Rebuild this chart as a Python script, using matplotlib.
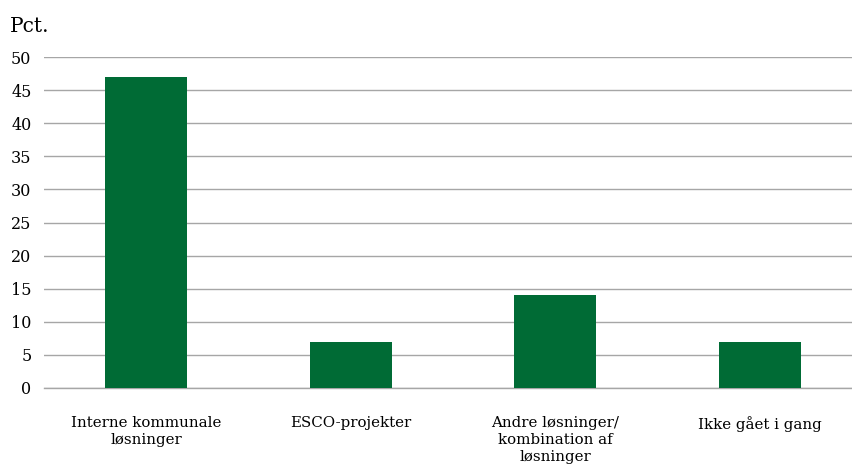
import matplotlib
matplotlib.use("Agg")
import matplotlib.pyplot as plt

categories = ["Interne kommunale\nløsninger", "ESCO-projekter",
              "Andre løsninger/\nkombination af\nløsninger", "Ikke gået i gang"]
values = [47, 7, 14, 7]
yticks = [0, 5, 10, 15, 20, 25, 30, 35, 40, 45, 50]

FONT = "DejaVu Serif"
BAR_COLOR = "#006b35"
GRID_COLOR = "#a6a6a6"

fig = plt.figure(figsize=(8.53, 4.68), dpi=100)
ax = fig.add_axes([44 / 853, 80 / 468, 818 / 853, 331 / 468])

x = list(range(len(categories)))
ax.bar(x, values, width=0.4, color=BAR_COLOR, zorder=3)

ax.set_xlim(-0.5, len(categories) - 0.5)
ax.set_ylim(0, 50)
ax.set_yticks(yticks)
ax.set_yticklabels([str(v) for v in yticks], fontfamily=FONT, fontsize=11.5)
ax.yaxis.grid(True, color=GRID_COLOR, linewidth=1.0, zorder=0)
ax.set_xticks(x)
ax.set_xticklabels(categories, fontfamily=FONT, fontsize=10.8,
                   linespacing=1.3, va="top")
ax.tick_params(axis="both", length=0)
ax.tick_params(axis="y", pad=9)
ax.tick_params(axis="x", pad=20)

for side in ["top", "right", "left"]:
    ax.spines[side].set_visible(False)
ax.spines["bottom"].set_color(GRID_COLOR)
ax.spines["bottom"].set_linewidth(1.0)

fig.text(10 / 853, 1 - 27 / 468, "Pct.", fontfamily=FONT, fontsize=14.5,
         va="center", ha="left")

fig.savefig("out.png", dpi=100)
